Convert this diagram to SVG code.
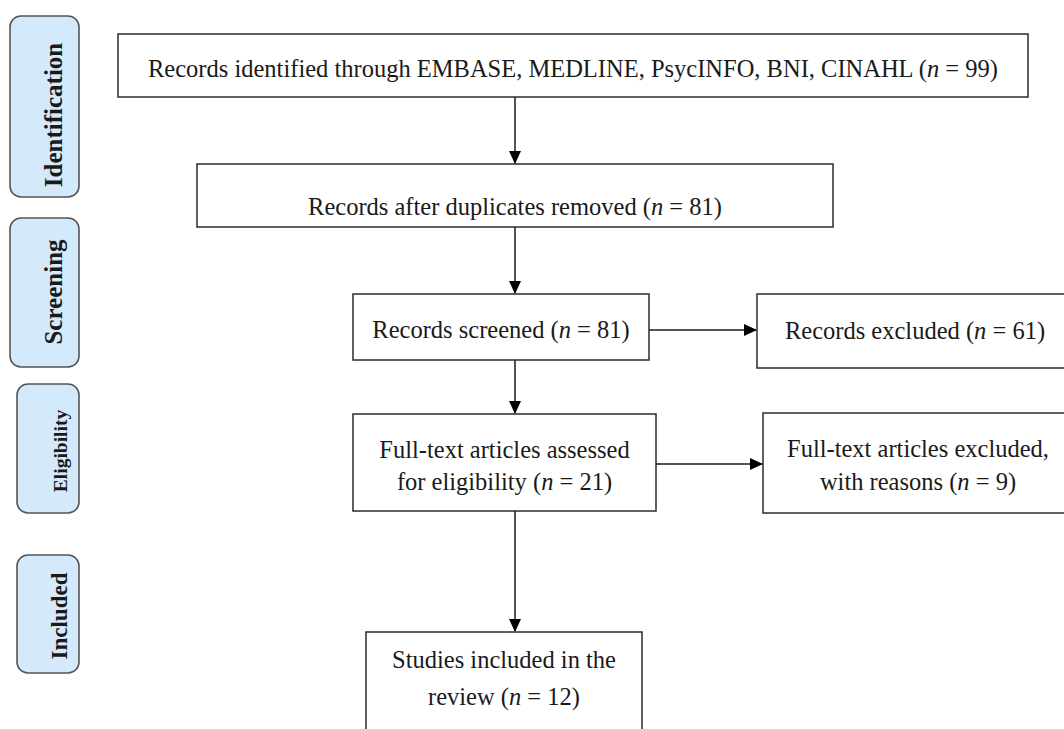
<svg xmlns="http://www.w3.org/2000/svg" width="1064" height="729" viewBox="0 0 1064 729">
<style>
.box{fill:#fff;stroke:#2b2b2b;stroke-width:1.5}
.side{fill:#d4eafb;stroke:#555;stroke-width:1.6}
.t{font-family:"Liberation Serif","Times New Roman",serif;font-size:24.5px;fill:#1a1a1a;text-anchor:middle}
.s{font-family:"Liberation Serif","Times New Roman",serif;font-weight:bold;fill:#1a1a1a;text-anchor:middle}
.c{stroke:#1a1a1a;stroke-width:1.5;fill:none}
</style>
<defs>
<marker id="ah" markerWidth="13" markerHeight="12" refX="12" refY="6" orient="auto" markerUnits="userSpaceOnUse">
<path d="M0,0 L13,6 L0,12 Z" fill="#000"/>
</marker>
</defs>
<rect width="1064" height="729" fill="#fff"/>
<g id="side-identification">
<rect class="side" x="10" y="16" width="69" height="181" rx="11"/>
<text class="s" font-size="25" transform="translate(62,115) rotate(-90)">Identification</text>
</g>
<g id="side-screening">
<rect class="side" x="10" y="218" width="69" height="149" rx="11"/>
<text class="s" font-size="25" transform="translate(62,292) rotate(-90)">Screening</text>
</g>
<g id="side-eligibility">
<rect class="side" x="17" y="384" width="62" height="129" rx="11"/>
<text class="s" font-size="19.5" transform="translate(67,451) rotate(-90)">Eligibility</text>
</g>
<g id="side-included">
<rect class="side" x="17" y="555" width="62" height="118" rx="11"/>
<text class="s" font-size="23" transform="translate(67,616) rotate(-90)">Included</text>
</g>
<g id="connectors">
<line class="c" x1="515" y1="97" x2="515" y2="163" marker-end="url(#ah)"/>
<line class="c" x1="515" y1="227" x2="515" y2="293" marker-end="url(#ah)"/>
<line class="c" x1="515" y1="360" x2="515" y2="413" marker-end="url(#ah)"/>
<line class="c" x1="515" y1="511" x2="515" y2="631" marker-end="url(#ah)"/>
<line class="c" x1="649" y1="330" x2="756" y2="330" marker-end="url(#ah)"/>
<line class="c" x1="656" y1="464" x2="762" y2="464" marker-end="url(#ah)"/>
</g>
<g id="n1">
<rect class="box" x="118" y="34" width="910" height="63"/>
<text class="t" x="573" y="77">Records identified through EMBASE, MEDLINE, PsycINFO, BNI, CINAHL (<tspan font-style="italic">n</tspan> = 99)</text>
</g>
<g id="n2">
<rect class="box" x="197" y="164" width="636" height="63"/>
<text class="t" x="515" y="215">Records after duplicates removed (<tspan font-style="italic">n</tspan> = 81)</text>
</g>
<g id="n3">
<rect class="box" x="353" y="294" width="296" height="66"/>
<text class="t" x="501" y="338">Records screened (<tspan font-style="italic">n</tspan> = 81)</text>
</g>
<g id="n4">
<rect class="box" x="757" y="294" width="316" height="74"/>
<text class="t" x="915" y="339">Records excluded (<tspan font-style="italic">n</tspan> = 61)</text>
</g>
<g id="n5">
<rect class="box" x="353" y="414" width="303" height="97"/>
<text class="t" x="504.5" y="458">Full-text articles assessed</text>
<text class="t" x="504.5" y="490">for eligibility (<tspan font-style="italic">n</tspan> = 21)</text>
</g>
<g id="n6">
<rect class="box" x="763" y="413" width="310" height="100"/>
<text class="t" x="918" y="457">Full-text articles excluded,</text>
<text class="t" x="918" y="490">with reasons (<tspan font-style="italic">n</tspan> = 9)</text>
</g>
<g id="n7">
<rect class="box" x="366" y="632" width="276" height="110"/>
<text class="t" x="504" y="668">Studies included in the</text>
<text class="t" x="504" y="705">review (<tspan font-style="italic">n</tspan> = 12)</text>
</g>
</svg>
